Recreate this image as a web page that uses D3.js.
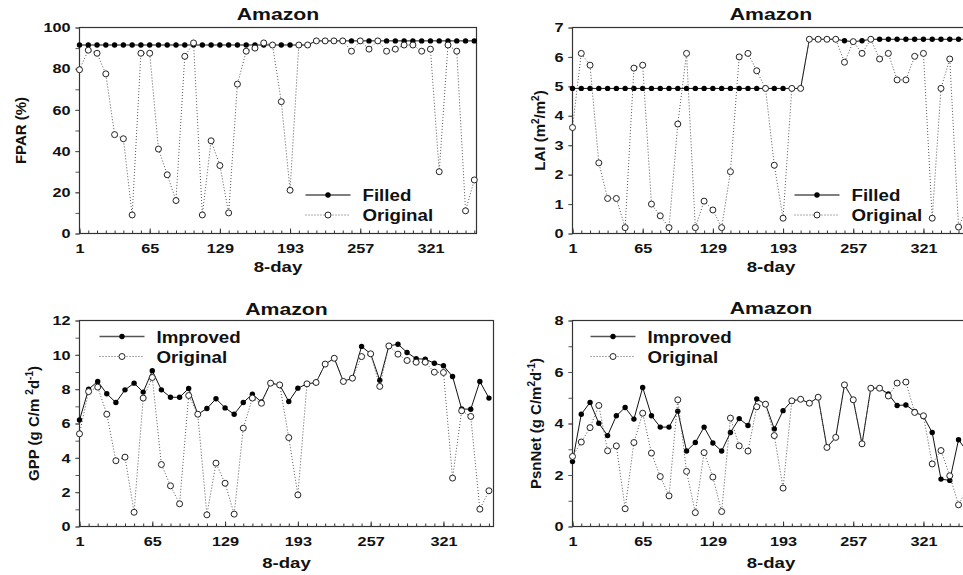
<!DOCTYPE html>
<html>
<head>
<meta charset="utf-8">
<script src="https://cdn.jsdelivr.net/npm/d3@7/dist/d3.min.js"></script>
<style>
  body { margin: 0; background: #fff; }
  svg { display: block; font-family: "Liberation Sans", Arial, sans-serif; font-weight: bold; }
</style>
</head>
<body>
<div id="graphic"></div>
<script>
// 8-day composite periods (day of year)
var days = [1, 9, 17, 25, 33, 41, 49, 57, 65, 73, 81, 89, 97, 105, 113, 121, 129, 137, 145, 153,
  161, 169, 177, 185, 193, 201, 209, 217, 225, 233, 241, 249, 257, 265, 273, 281, 289, 297, 305,
  313, 321, 329, 337, 345, 353, 361];
var dayTicks = [1, 65, 129, 193, 257, 321];

var fparFilled = [91.5, 91.5, 91.5, 91.5, 91.5, 91.5, 91.5, 91.5, 91.5, 91.5, 91.5, 91.5, 91.5, 91.5,
  91.5, 91.5, 91.5, 91.5, 91.5, 91.5, 91.5, 91.5, 91.5, 91.5, 91.5, 91.5, 91.5, 93.5, 93.5, 93.5,
  93.5, 93.5, 93.5, 93.5, 93.5, 93.5, 93.5, 93.5, 93.5, 93.5, 93.5, 93.5, 93.5, 93.5, 93.5, 93.5];
var fparOriginal = [79.5, 89, 87.5, 77.5, 48, 46, 9, 87.5, 87.5, 41, 28.5, 16, 86, 92.5, 9, 45, 33,
  10, 72.5, 88.5, 90, 92.5, 91.5, 64, 21, 91.5, 91.5, 93.5, 93.5, 93.5, 93.5, 88.5, 93.5, 89.5, 93.5,
  88.5, 89.5, 91.5, 91.5, 88.5, 89.5, 30, 91.5, 88.5, 11, 26];

var laiFilled = [4.93, 4.93, 4.93, 4.93, 4.93, 4.93, 4.93, 4.93, 4.93, 4.93, 4.93, 4.93, 4.93, 4.93,
  4.93, 4.93, 4.93, 4.93, 4.93, 4.93, 4.93, 4.93, 4.93, 4.93, 4.93, 4.93, 4.93, 6.6, 6.6, 6.6, 6.6,
  6.55, 6.52, 6.55, 6.6, 6.6, 6.6, 6.6, 6.6, 6.6, 6.6, 6.6, 6.6, 6.6, 6.6, 6.6];
var laiOriginal = [3.6, 6.12, 5.72, 2.4, 1.19, 1.19, 0.2, 5.62, 5.72, 1.0, 0.6, 0.2, 3.72, 6.12, 0.2,
  1.1, 0.8, 0.2, 2.1, 6.0, 6.12, 5.53, 4.93, 2.32, 0.52, 4.93, 4.93, 6.6, 6.6, 6.6, 6.6, 5.82, 6.52,
  6.12, 6.6, 5.93, 6.12, 5.22, 5.22, 6.02, 6.12, 0.52, 4.93, 5.93, 0.22, 0.9];

var gppImproved = [6.2, 8.0, 8.45, 7.73, 7.22, 7.96, 8.35, 7.83, 9.07, 7.96, 7.53, 7.53, 8.04, 6.54,
  6.87, 7.44, 6.91, 6.54, 7.22, 7.71, 7.25, 8.35, 8.25, 7.28, 8.06, 8.31, 8.39, 9.46, 9.8, 8.45, 8.64,
  10.49, 10.06, 8.52, 10.52, 10.62, 10.14, 9.77, 9.75, 9.51, 9.36, 8.74, 6.85, 6.83, 8.45, 7.48];
var gppOriginal = [5.4, 7.86, 8.12, 6.54, 3.83, 4.04, 0.83, 7.48, 8.68, 3.61, 2.37, 1.32, 7.63, 6.54,
  0.68, 3.69, 2.52, 0.72, 5.73, 7.48, 7.18, 8.35, 8.25, 5.18, 1.84, 8.31, 8.39, 9.46, 9.8, 8.45, 8.64,
  9.9, 10.06, 8.16, 10.52, 10.04, 9.67, 9.57, 9.57, 8.99, 8.97, 2.82, 6.74, 6.41, 1.01, 2.08];

var psnImproved = [2.52, 4.36, 4.82, 4.01, 3.53, 4.30, 4.62, 4.17, 5.40, 4.30, 3.86, 3.86, 4.48, 2.93,
  3.26, 3.86, 3.24, 2.93, 3.65, 4.19, 3.92, 4.95, 4.75, 3.79, 4.50, 4.88, 4.94, 4.79, 5.02, 3.07, 3.46,
  5.50, 4.92, 3.21, 5.37, 5.37, 5.15, 4.70, 4.72, 4.47, 4.27, 3.65, 1.84, 1.79, 3.37, 2.9];
var psnOriginal = [2.72, 3.28, 3.84, 4.70, 2.94, 3.13, 0.69, 3.26, 4.40, 2.85, 1.94, 1.19, 4.92, 2.14,
  0.54, 2.87, 1.92, 0.58, 4.21, 3.13, 2.93, 4.65, 4.75, 3.53, 1.49, 4.88, 4.94, 4.79, 5.02, 3.07, 3.46,
  5.50, 4.92, 3.21, 5.37, 5.37, 5.07, 5.57, 5.61, 4.43, 4.30, 2.43, 2.95, 1.97, 0.84, 1.5];

var width = 963,
    height = 575;

var svg = d3.select("#graphic")
    .append("svg")
    .attr("width", width)
    .attr("height", height);

var panels = [
  {left: 79.5, top: 27.5, w: 397, xMax: 363, yMax: 100, yMajor: 20, yMinor: 10,
   solid: fparFilled, dotted: fparOriginal, names: ["Filled", "Original"],
   legX: 226, legY: 167.5, titleY: 20, xlabY: 272, ylabX: 26,
   ylab: [["FPAR (%)"]]},
  {left: 572.5, top: 27.5, w: 397, xMax: 363, yMax: 7, yMajor: 1, yMinor: 1,
   solid: laiFilled, dotted: laiOriginal, names: ["Filled", "Original"],
   legX: 222, legY: 167.5, titleY: 20, xlabY: 272, ylabX: 545,
   ylab: [["LAI (m"], ["2", 1], ["/m"], ["2", 1], [")"]]},
  {left: 79.5, top: 320.5, w: 414, xMax: 365, yMax: 12, yMajor: 2, yMinor: 1,
   solid: gppImproved, dotted: gppOriginal, names: ["Improved", "Original"],
   legX: 20, legY: 16, titleY: 315, xlabY: 568, ylabX: 39,
   ylab: [["GPP (g C/m "], ["2", 1], ["d"], ["-1", 1], [")"]]},
  {left: 572.5, top: 320.5, w: 397, xMax: 363, yMax: 8, yMajor: 2, yMinor: 1,
   solid: psnImproved, dotted: psnOriginal, names: ["Improved", "Original"],
   legX: 18, legY: 16, titleY: 314, xlabY: 568, ylabX: 541,
   ylab: [["PsnNet (g C/m"], ["2", 1], ["d"], ["-1", 1], [")"]]}
];

var plotH = 206;

// horizontal text, a little wider than the font
function hText(sel, x, y, str, size, sx, anchor) {
  return sel.append("text")
      .attr("transform", "translate(" + x + "," + y + ") scale(" + sx + ",1)")
      .attr("text-anchor", anchor || "middle")
      .attr("font-size", size)
      .attr("fill", "#111")
      .text(str);
}

function styleLabels(sel) {
  sel.selectAll("text")
      .attr("font-size", 13)
      .attr("font-family", "Liberation Sans, Arial, sans-serif")
      .attr("font-weight", "bold")
      .attr("fill", "#111")
      .attr("transform", "scale(1.25,1)");
}

panels.forEach(function(p) {
  var g = svg.append("g")
      .attr("transform", "translate(" + p.left + "," + p.top + ")");

  var x = d3.scaleLinear().domain([1, p.xMax]).range([0, p.w]);
  var y = d3.scaleLinear().domain([0, p.yMax]).range([plotH, 0]);

  // x ticks, minor then labelled
  g.append("g")
      .attr("transform", "translate(0," + plotH + ")")
      .call(d3.axisBottom(x).tickValues(days).tickSize(-3).tickFormat(""))
      .call(function(s) { s.select(".domain").remove(); s.selectAll("line").attr("stroke", "#333"); });

  var xa = g.append("g")
      .attr("transform", "translate(0," + plotH + ")")
      .call(d3.axisBottom(x).tickValues(dayTicks).tickSize(-5).tickPadding(10.5)
        .tickFormat(d3.format("d")));
  xa.select(".domain").remove();
  xa.selectAll("line").attr("stroke", "#333");
  styleLabels(xa);

  // y ticks
  g.append("g")
      .call(d3.axisLeft(y).tickValues(d3.range(0, p.yMax + 0.001, p.yMinor)).tickSize(4).tickFormat(""))
      .call(function(s) { s.select(".domain").remove(); s.selectAll("line").attr("stroke", "#555"); });

  var ya = g.append("g")
      .call(d3.axisLeft(y).tickValues(d3.range(0, p.yMax + 0.001, p.yMajor)).tickSize(4).tickPadding(3.2)
        .tickFormat(d3.format("d")));
  ya.select(".domain").remove();
  ya.selectAll("line").attr("stroke", "#555");
  styleLabels(ya);

  // frame
  g.append("rect")
      .attr("width", p.w)
      .attr("height", plotH)
      .attr("fill", "none")
      .attr("stroke", "#333")
      .attr("stroke-width", 1.2);

  var line = d3.line()
      .x(function(d, i) { return x(days[i]); })
      .y(function(d) { return y(d); });

  // solid series
  g.append("path")
      .datum(p.solid)
      .attr("fill", "none")
      .attr("stroke", "#111")
      .attr("stroke-width", 1)
      .attr("d", line);

  g.selectAll(".dot")
      .data(p.solid)
      .enter().append("circle")
      .attr("class", "dot")
      .attr("cx", function(d, i) { return x(days[i]); })
      .attr("cy", function(d) { return y(d); })
      .attr("r", 2.7)
      .attr("fill", "#000");

  // dotted series (drawn on top)
  g.append("path")
      .datum(p.dotted)
      .attr("fill", "none")
      .attr("stroke", "#555")
      .attr("stroke-width", 1)
      .attr("stroke-dasharray", "1,2")
      .attr("d", line);

  g.selectAll(".ring")
      .data(p.dotted)
      .enter().append("circle")
      .attr("class", "ring")
      .attr("cx", function(d, i) { return x(days[i]); })
      .attr("cy", function(d) { return y(d); })
      .attr("r", 3)
      .attr("fill", "#fff")
      .attr("stroke", "#222")
      .attr("stroke-width", 1);

  // legend
  var leg = g.append("g").attr("transform", "translate(" + p.legX + "," + p.legY + ")");
  leg.append("line").attr("x1", 0).attr("x2", 45).attr("y1", 0).attr("y2", 0)
      .attr("stroke", "#555").attr("stroke-width", 1.5);
  leg.append("circle").attr("cx", 22.5).attr("cy", 0).attr("r", 2.7).attr("fill", "#000");
  leg.append("line").attr("x1", 0).attr("x2", 45).attr("y1", 20).attr("y2", 20)
      .attr("stroke", "#555").attr("stroke-dasharray", "1,2");
  leg.append("circle").attr("cx", 22.5).attr("cy", 20).attr("r", 3)
      .attr("fill", "#fff").attr("stroke", "#222");
  hText(leg, 57, 6, p.names[0], 17, 1.1, "start");
  hText(leg, 57, 26, p.names[1], 17, 1.1, "start");

  // title and axis titles
  hText(g, p.w / 2, p.titleY - p.top, "Amazon", 17, 1.25);
  hText(g, p.w / 2, p.xlabY - p.top, "8-day", 15.5, 1.2);

  var yl = svg.append("text")
      .attr("transform", "translate(" + p.ylabX + "," + (p.top + plotH / 2) + ") rotate(-90)")
      .attr("text-anchor", "middle")
      .attr("font-size", 15)
      .attr("fill", "#111");
  // superscripts shift up, the next part shifts back down
  var shift = 0;
  p.ylab.forEach(function(part) {
    var t = yl.append("tspan").text(part[0]);
    if (part[1]) {
      t.attr("font-size", 10).attr("dy", (-6 - shift) + "px");
      shift = -6;
    } else if (shift) {
      t.attr("dy", (-shift) + "px");
      shift = 0;
    }
  });
});
</script>
</body>
</html>
